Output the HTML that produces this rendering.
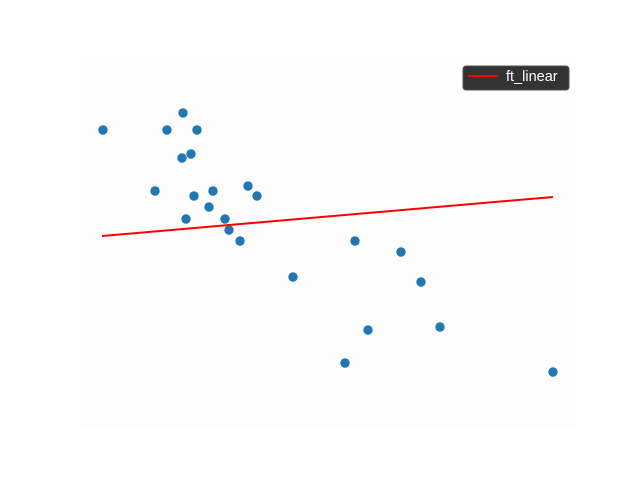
<!DOCTYPE html>
<html><head><meta charset="utf-8"><style>
body{margin:0;background:#fff;width:640px;height:480px;overflow:hidden;font-family:"Liberation Sans","DejaVu Sans",sans-serif}
</style></head><body>
<svg id="chart" width="640" height="480" xmlns="http://www.w3.org/2000/svg">
<rect x="80" y="57.6" width="496" height="369.6" fill="#fdfdfd"/>
<g id="points"></g>
<g id="fit"></g>
<g>
<rect x="463" y="66" width="106" height="24" rx="3" fill="#333333" stroke="#555" stroke-width="1"/>
<line x1="468" y1="76" x2="498" y2="76" stroke="red" stroke-width="2"/>
<text x="506" y="81" fill="#fff" font-size="14.5">ft_linear</text>
</g>
</svg>
<script>
const xVals=[23,87,103,117,102,111,75,114,133,129,106,145,149,160,168,177,213,265,275,288,321,341,360,473];
const yVals=[297,297,314,297,269,273,236,231,236,220,208,208,197,186,241,231,150,64,186,97,175,145,100,55];
const fitX=[22,473];
const fitY=[191,230];
const xs=v=>80+v*(496/496);
const ys=v=>427-v;
const NS="http://www.w3.org/2000/svg";
const pg=document.getElementById('points');
xVals.forEach((x,i)=>{
 const c=document.createElementNS(NS,'circle');
 c.setAttribute('cx',xs(x));c.setAttribute('cy',ys(yVals[i]));c.setAttribute('r',4.7);c.setAttribute('fill','#1f77b4');
 
 
 pg.appendChild(c);
});
const l=document.createElementNS(NS,'line');
l.setAttribute('x1',xs(fitX[0]));l.setAttribute('y1',ys(fitY[0]));l.setAttribute('x2',xs(fitX[1]));l.setAttribute('y2',ys(fitY[1]));
l.setAttribute('stroke','red');l.setAttribute('stroke-width','2');


document.getElementById('fit').appendChild(l);
</script>
</body></html>
